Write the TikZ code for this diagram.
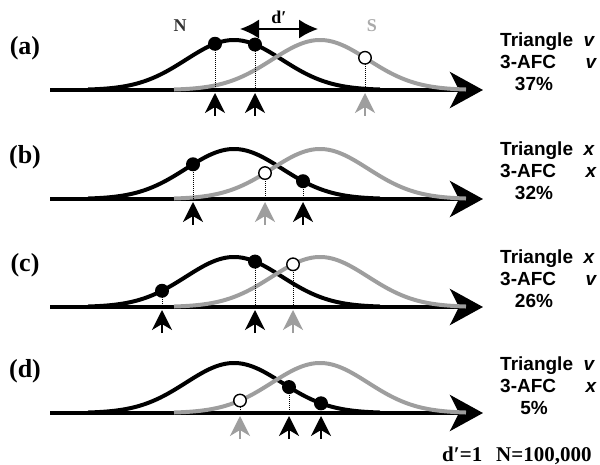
\documentclass[tikz,border=0pt]{standalone}
\usepackage{fontspec}
\setmainfont{Liberation Serif}
\setsansfont{Liberation Sans}
\usetikzlibrary{arrows.meta}

\definecolor{sgray}{RGB}{158,158,158}
\definecolor{slabel}{RGB}{170,170,170}
\definecolor{nlabel}{RGB}{50,50,50}

\tikzset{
  axisline/.style={line width=4pt, -{Stealth[length=33pt,width=36pt,inset=9pt]}},
  ncurve/.style={line width=4pt, black, line join=round},
  scurve/.style={line width=4pt, sgray, line join=round},
  bdot/.style={circle, fill=black, inner sep=0pt, minimum size=14pt},
  wdot/.style={circle, fill=white, draw=black, line width=1.4pt, inner sep=0pt, minimum size=12.5pt},
  dropline/.style={densely dotted, line width=1pt},
  uparr/.style={line width=1.8pt, -{Stealth[length=20pt,width=20pt,inset=6pt]}},
  panellabel/.style={font=\fontsize{26}{26}\selectfont\bfseries, anchor=center},
  restext/.style={font=\fontsize{19}{19}\selectfont\sffamily\bfseries, anchor=base west, inner sep=0pt},
  resmark/.style={font=\fontsize{19}{19}\selectfont\sffamily\bfseries\itshape, anchor=base, inner sep=0pt},
  pcttext/.style={font=\fontsize{19}{19}\selectfont\sffamily\bfseries, anchor=base, inner sep=0pt},
}

% black mark on the N curve: #1 name, #2 x, #3 axis y
\newcommand\nmark[3]{%
  \coordinate (#1-a) at (#2,#3);
  \coordinate (#1-t) at (#2,#3+3);
  \coordinate (#1-b) at (#2,#3+26);
  \draw[dropline] ({#2},{#3-gn(#2)}) -- (#1-a);
  \node[bdot] (#1) at ({#2},{#3-gn(#2)}) {};
  \draw[uparr] (#1-b) -- (#1-t);
}
% open mark on the S curve
\newcommand\smark[3]{%
  \coordinate (#1-a) at (#2,#3);
  \coordinate (#1-t) at (#2,#3+3);
  \coordinate (#1-b) at (#2,#3+26);
  \draw[dropline] ({#2},{#3-gs(#2)}) -- (#1-a);
  \node[wdot] (#1) at ({#2},{#3-gs(#2)}) {};
  \draw[uparr, sgray] (#1-b) -- (#1-t);
}
% axis with both distributions: #1 name, #2 axis y
\newcommand\distpair[2]{%
  \coordinate (#1-l) at (50,#2);
  \coordinate (#1-r) at (483,#2);
  \draw[axisline] (#1-l) -- (#1-r);
  \draw[ncurve] plot[domain=88:380, samples=90, smooth] (\x,{#2-gn(\x)});
  \draw[scurve] plot[domain=174:466, samples=90, smooth] (\x,{#2-gs(\x)});
}
% right-hand result column: #1 name, #2 axis y, #3 triangle mark, #4 3-AFC mark, #5 percent
\newcommand\results[5]{%
  \node[restext] (#1-tri) at (500,#2-43) {Triangle};
  \node[resmark] (#1-trim) at (589,#2-43) {#3};
  \node[restext] (#1-afc) at (500,#2-21) {3-AFC};
  \node[resmark] (#1-afcm) at (591,#2-21) {#4};
  \node[pcttext] (#1-pct) at (534,#2+1) {#5};
}

\begin{document}
\begin{tikzpicture}[x=1pt, y=-1pt,
  declare function={gn(\t)=50*exp(-0.5*((\t-234)/48)^2);
                    gs(\t)=50*exp(-0.5*((\t-320)/48)^2);}]
\useasboundingbox (0,0) rectangle (600,465);

% labels for the two distributions and their separation
\node[font=\fontsize{18}{18}\selectfont\bfseries, text=nlabel] (nlab) at (180,26) {N};
\node[font=\fontsize{18}{18}\selectfont\bfseries, text=slabel] (slab) at (372,26) {S};
\coordinate (dl) at (240,29);
\coordinate (dr) at (318,29);
\draw[line width=1.8pt, {Latex[length=19pt,width=19pt]}-{Latex[length=19pt,width=19pt]}] (dl) -- (dr);
\node[font=\fontsize{18}{18}\selectfont\bfseries, anchor=base, inner sep=0pt] (dlab) at (279,24) {d′};

% (a)
\node[panellabel] (la) at (25,48) {(a)};
\distpair{pa}{90}
\nmark{a1}{215}{90}
\nmark{a2}{255}{90}
\smark{a3}{365}{90}
\results{ra}{90}{v}{v}{37\%}

% (b)
\node[panellabel] (lb) at (25,157) {(b)};
\distpair{pb}{199}
\nmark{b1}{193}{199}
\smark{b2}{265}{199}
\nmark{b3}{303}{199}
\results{rb}{199}{x}{x}{32\%}

% (c)
\node[panellabel] (lc) at (25,265) {(c)};
\distpair{pc}{307}
\nmark{c1}{162}{307}
\nmark{c2}{255}{307}
\smark{c3}{293}{307}
\results{rc}{307}{x}{v}{26\%}

% (d)
\node[panellabel] (ld) at (25,371) {(d)};
\distpair{pd}{413}
\smark{d1}{240}{413}
\nmark{d2}{289}{413}
\nmark{d3}{321}{413}
\results{rd}{413}{v}{x}{5\%}

% simulation parameters
\node[font=\fontsize{21}{21}\selectfont\bfseries, anchor=base west, inner sep=0pt] (dp) at (442,461) {d′=1};
\node[font=\fontsize{21}{21}\selectfont\bfseries, anchor=base west, inner sep=0pt] (nn) at (496,461) {N=100,000};
\end{tikzpicture}
\end{document}
